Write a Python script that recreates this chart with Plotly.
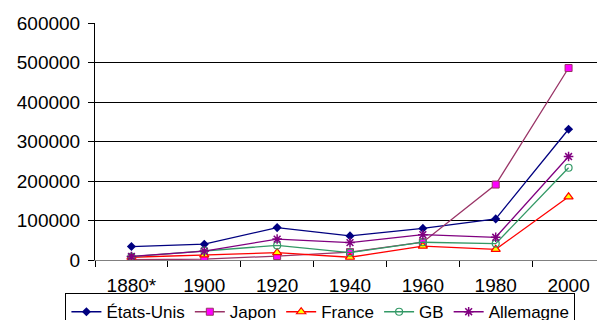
import plotly.graph_objects as go

years = ["1880*", "1900", "1920", "1940", "1960", "1980", "2000"]
etats_unis = [34000, 40000, 82000, 61000, 80000, 104000, 331000]
japon = [1000, 2000, 10000, 20000, 45000, 191000, 486000]
france = [7000, 13000, 18500, 7000, 35000, 27000, 160000]
gb = [8500, 23500, 37000, 18500, 45000, 41500, 233500]
allemagne = [9000, 22500, 53000, 44000, 64000, 57500, 262000]

FONT = "Arial"

series = [
    ("États-Unis", etats_unis, "#000080", dict(symbol="diamond", size=7, color="#000080")),
    ("Japon", japon, "#993366", dict(symbol="square", size=7, color="#FF00FF",
                                      line=dict(color="#993366", width=1))),
    ("France", france, "#FF0000", dict(symbol="triangle-up", size=8, color="#FFFF00",
                                        line=dict(color="#FF0000", width=1.2))),
    ("GB", gb, "#339966", dict(symbol="circle-open", size=7, color="#339966",
                               line=dict(width=1.2))),
    ("Allemagne", allemagne, "#800080", dict(symbol="asterisk-open", size=8, color="#800080",
                                             line=dict(width=1.5))),
]

fig = go.Figure()
for name, vals, col, mk in series:
    fig.add_trace(go.Scatter(x=years, y=vals, name=name, mode="lines+markers",
                             line=dict(color=col, width=1.3), marker=mk))

# page body has an 8px default margin; sizes compensate for it
fig.update_layout(
    width=597, height=312,
    margin=dict(l=87, r=0, t=15, b=60, autoexpand=False),
    paper_bgcolor="white", plot_bgcolor="white",
    font=dict(family=FONT, size=19, color="black"),
    showlegend=True,
    legend=dict(orientation="h", x=-0.058, xanchor="left", y=-0.14, yanchor="top",
                bordercolor="black", borderwidth=1, itemwidth=30,
                font=dict(family=FONT, size=17, color="black"),
                tracegroupgap=0, traceorder="normal"),
)
fig.update_xaxes(type="category", range=[-0.5, 6.5], tickson="boundaries",
                 ticks="outside", ticklen=6, tickcolor="black",
                 showline=True, linecolor="#808080", linewidth=1,
                 showgrid=False, zeroline=False, ticklabelstandoff=8,
                 tickfont=dict(family=FONT, size=19, color="black"))
fig.update_yaxes(range=[0, 600000], dtick=100000, tickformat="d",
                 ticks="outside", ticklen=6, tickcolor="black",
                 showline=True, linecolor="black", linewidth=1,
                 showgrid=True, gridcolor="black", gridwidth=1,
                 zeroline=False, ticklabelstandoff=4,
                 tickfont=dict(family=FONT, size=19, color="black"))

fig.write_html("out.html")
